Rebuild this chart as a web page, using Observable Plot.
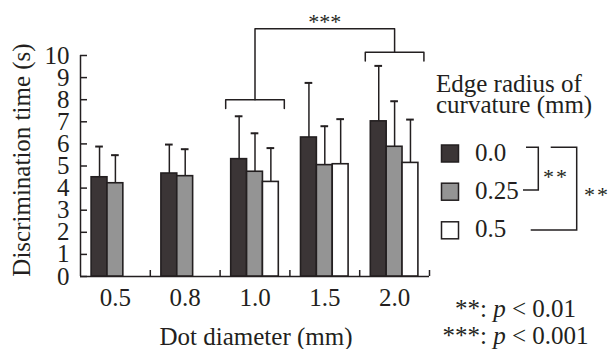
<!DOCTYPE html>
<html>
<head>
<meta charset="utf-8">
<script src="https://cdn.jsdelivr.net/npm/d3@7"></script>
<script src="https://cdn.jsdelivr.net/npm/@observablehq/plot@0.6"></script>
<style>
  html, body { margin: 0; padding: 0; background: #fff; }
  #chart { position: relative; width: 611px; height: 349px; }
</style>
</head>
<body>
<div id="chart"></div>
<script>
// ---- data ----
const diameters = ["0.5", "0.8", "1.0", "1.5", "2.0"];
const radii = ["0.0", "0.25", "0.5"];
const time00 = [4.49, 4.66, 5.31, 6.29, 7.02];
const sd00 = [1.39, 1.31, 1.94, 2.47, 2.51];
const time025 = [4.22, 4.54, 4.74, 5.04, 5.87];
const sd025 = [1.27, 1.22, 1.74, 1.76, 2.06];
const time05 = [null, null, 4.28, 5.08, 5.14];
const sd05 = [null, null, 1.53, 2.04, 1.96];
const yTicks = [0, 1, 2, 3, 4, 5, 6, 7, 8, 9, 10];
const fills = ["#3b3536", "#949494", "#ffffff"];
// significance annotations (between dot diameters)
const sigGroups = ["1.0", "2.0"];
const sigLevels = [8.0, 10.15];
const sigTop = 11.21;
const sigLabel = "***";

const ink = "#231f20";
const font = '"Liberation Serif", "Times New Roman", serif';
const fs = 25;
const means = [time00, time025, time05];
const sds = [sd00, sd025, sd05];

// layout of bars within each diameter group (linear x: group i spans [i, i+1])
const pad = 0.7;
const slot = 1 / (radii.length + 2 * pad);
const rows = [];
diameters.forEach((d, i) => {
  radii.forEach((r, j) => {
    const m = means[j][i];
    if (m == null) return;
    const x1 = i + (pad + j) * slot;
    rows.push({diameter: d, radius: r, mean: m, sd: sds[j][i], top: m + sds[j][i],
      x1, x2: x1 + slot, xc: x1 + slot / 2, fill: fills[j]});
  });
});
const capHalf = 0.055;

// brackets
const half = 0.42;
const bracketPaths = [];
sigGroups.forEach((g, k) => {
  const c = diameters.indexOf(g) + 0.5;
  const lvl = sigLevels[k];
  const drop = 0.4;
  bracketPaths.push({id: "b" + k, x: c - half, y: lvl - drop});
  bracketPaths.push({id: "b" + k, x: c - half, y: lvl});
  bracketPaths.push({id: "b" + k, x: c + half, y: lvl});
  bracketPaths.push({id: "b" + k, x: c + half, y: lvl - drop});
});
{
  const c0 = diameters.indexOf(sigGroups[0]) + 0.5;
  const c1 = diameters.indexOf(sigGroups[1]) + 0.5;
  bracketPaths.push({id: "top", x: c0, y: sigLevels[0]});
  bracketPaths.push({id: "top", x: c0, y: sigTop});
  bracketPaths.push({id: "top", x: c1, y: sigTop});
  bracketPaths.push({id: "top", x: c1, y: sigLevels[1]});
}
const sigText = [{x: (diameters.indexOf(sigGroups[0]) + diameters.indexOf(sigGroups[1])) / 2 + 0.5, y: sigTop + 0.3, label: sigLabel}];

const plot = Plot.plot({
  width: 611,
  height: 349,
  marginLeft: 80,
  marginRight: 182,
  marginTop: 55,
  marginBottom: 73,
  style: {fontFamily: font, fontSize: fs + "px", color: ink, background: "#fff", overflow: "visible"},
  x: {domain: [0, diameters.length], axis: null},
  y: {domain: [0, 10], axis: null},
  marks: [
    // y axis labels
    Plot.axisY({ticks: yTicks, tickSize: 0, tickPadding: 11, tickFormat: d => String(d), fontSize: fs, fontFamily: font, label: null}),
    // inward y ticks
    Plot.axisY({ticks: yTicks, tickSize: -7, text: null, label: null, stroke: ink, strokeWidth: 1.5}),
    // x axis category labels
    Plot.axisX({ticks: diameters.map((d, i) => i + 0.5), tickFormat: v => diameters[Math.floor(v)], tickSize: 0, tickPadding: 12, fontSize: fs, fontFamily: font, label: null}),
    // separator ticks
    Plot.axisX({ticks: diameters.map((d, i) => i + 1), tickSize: -6, text: null, label: null, stroke: ink, strokeWidth: 1.5}),
    // axis lines
    Plot.ruleX([0], {y1: 0, y2: 10, stroke: ink, strokeWidth: 1.5}),
    Plot.ruleY([0], {x1: 0, x2: diameters.length, stroke: ink, strokeWidth: 1.5}),
    // error bars
    Plot.ruleX(rows, {x: "xc", y1: "mean", y2: "top", stroke: ink, strokeWidth: 1.5}),
    Plot.ruleY(rows, {y: "top", x1: d => d.xc - capHalf, x2: d => d.xc + capHalf, stroke: ink, strokeWidth: 2}),
    // bars
    Plot.rect(rows, {x1: "x1", x2: "x2", y1: 0, y2: "mean", fill: "fill", stroke: ink, strokeWidth: 1.6}),
    // significance brackets
    Plot.line(bracketPaths, {x: "x", y: "y", z: "id", stroke: ink, strokeWidth: 1.5, curve: "linear"}),
    Plot.text(sigText, {x: "x", y: "y", text: "label", fontSize: 22, fontFamily: font, fill: ink, lineAnchor: "middle", letterSpacing: 4})
  ]
});

document.getElementById("chart").appendChild(plot);

// ---- titles, legend, footnote (drawn on the same svg) ----
const svg = d3.select(plot);
const g = svg.append("g").attr("font-family", font).attr("fill", ink).attr("text-anchor", "start").attr("font-size", fs);

g.append("text").attr("transform", "translate(30,160) rotate(-90)").attr("text-anchor", "middle")
  .text("Discrimination time (s)");
g.append("text").attr("x", 256).attr("y", 345).attr("text-anchor", "middle")
  .text("Dot diameter (mm)");

// legend
const legendTitle = ["Edge radius of", "curvature (mm)"];
legendTitle.forEach((t, i) => {
  g.append("text").attr("x", 436).attr("y", 92 + i * 21).text(t);
});
const legendY = [153.5, 191.7, 230.3];
radii.forEach((r, i) => {
  g.append("rect").attr("x", 441.5).attr("y", legendY[i] - 8.5).attr("width", 17).attr("height", 17)
    .attr("fill", fills[i]).attr("stroke", ink).attr("stroke-width", 1.5);
  g.append("text").attr("x", 475).attr("y", legendY[i] + 7).text(r);
});
const lg = g.append("g").attr("fill", "none").attr("stroke", ink).attr("stroke-width", 1.5);
lg.append("path").attr("d", "M526,147.3H538.3V190H523");
lg.append("path").attr("d", "M550.7,147.3H576.7V230H530.7");
g.append("text").attr("x", 556).attr("y", 184).attr("text-anchor", "middle").attr("font-size", 22).attr("letter-spacing", 2).text("**");
g.append("text").attr("x", 597).attr("y", 202).attr("text-anchor", "middle").attr("font-size", 22).attr("letter-spacing", 2).text("**");

// footnote
const notes = [["**", "0.01", 317], ["***", "0.001", 344]];
notes.forEach(([s, p, y]) => {
  g.append("text").attr("x", 480).attr("y", y).attr("text-anchor", "end").text(s);
  const t = g.append("text").attr("x", 480).attr("y", y).attr("text-anchor", "start");
  t.append("tspan").text(": ");
  t.append("tspan").attr("font-style", "italic").text("p");
  t.append("tspan").text(" < " + p);
});
</script>
</body>
</html>
